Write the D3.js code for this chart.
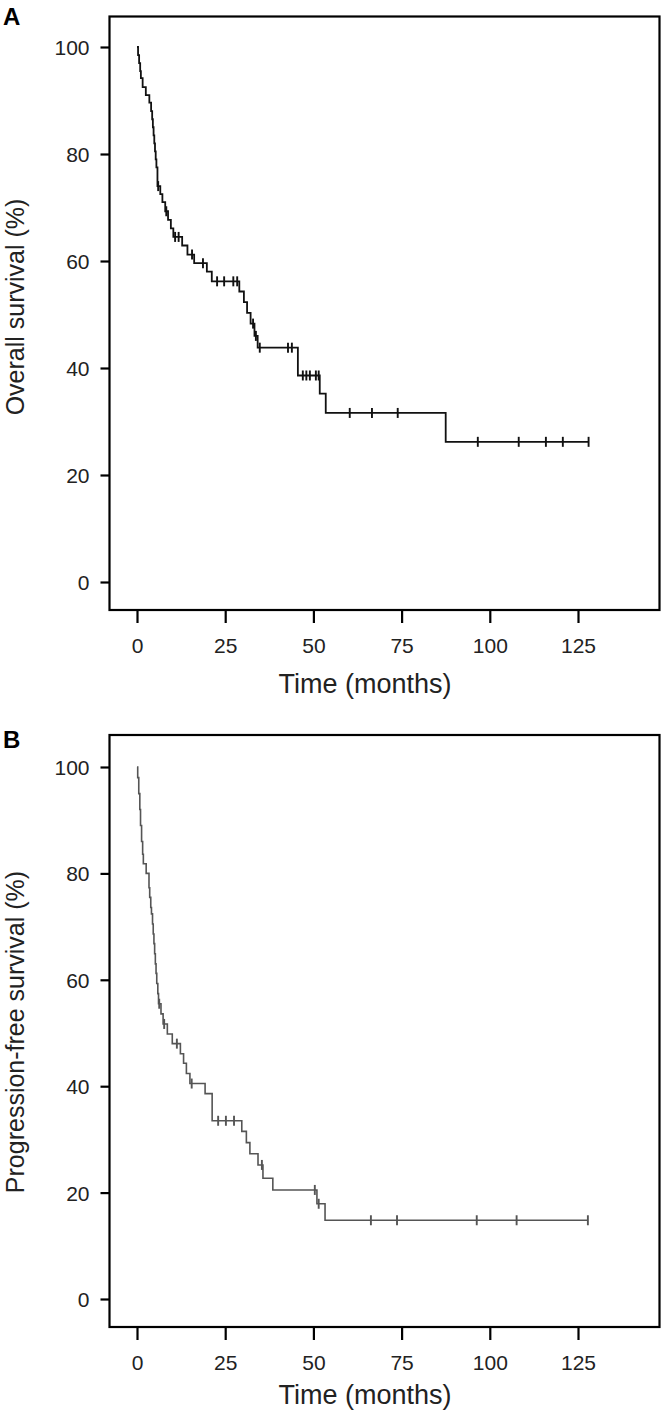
<!DOCTYPE html>
<html>
<head>
<meta charset="utf-8">
<script src="https://cdn.jsdelivr.net/npm/d3@7"></script>
<style>
  html, body { margin: 0; padding: 0; background: #fff; }
  svg { display: block; }
  text { font-family: "Liberation Sans", Arial, Helvetica, sans-serif; }
</style>
</head>
<body>
<svg id="chart" width="664" height="1416"></svg>
<script>
// ---------- DATA ----------
// Panel A: overall survival – event times (months) and survival (%) after each event
const osTimes = [0, 0.3, 0.6, 0.9, 1.1, 1.6, 2.5, 3.5, 4.0, 4.3, 4.5, 4.7, 4.9, 5.1, 5.3, 5.5, 5.8,
  6.6, 7.2, 8.0, 8.8, 9.6, 10.3, 12.8, 14.3, 16.2, 19.8, 21.2, 29.0, 30.3, 31.2, 32.2, 33.3, 34.2,
  45.6, 51.8, 53.5, 87.5];
const osSurv = [100, 98.5, 97, 95.5, 94.2, 92.5, 91, 89.6, 88, 86.5, 85, 83.5, 82, 80.5, 79, 77.5, 74,
  72.5, 71, 69.3, 67.7, 66.1, 64.5, 62.9, 61.2, 59.6, 58, 56.2, 54.3, 52.3, 50.3, 48.3, 46, 43.8,
  38.6, 35.2, 31.6, 26.2];
const osCensor = [6.0, 8.3, 10.8, 11.8, 15.6, 18.7, 22.7, 24.7, 27.3, 28.4, 32.9, 33.7, 34.8, 42.8, 43.9,
  47.0, 48.0, 49.0, 50.7, 51.5, 60.3, 66.6, 73.9, 96.6, 108.2, 115.9, 120.7, 128.0];
const osEnd = 128.0;

// Panel B: progression-free survival
const pfsTimes = [0, 0.2, 0.5, 0.8, 1.0, 1.3, 1.6, 1.8, 2.6, 3.4, 3.6, 3.9, 4.1, 4.4, 4.6, 4.8, 5.0, 5.2,
  5.4, 5.6, 5.9, 6.1, 6.8, 7.4, 8.6, 10.0, 12.3, 13.2, 14.0, 15.0, 19.3, 21.3, 29.7, 31.0, 32.0,
  34.3, 35.7, 38.5, 51.0, 53.3];
const pfsSurv = [100, 98, 95, 92, 89, 86, 83.6, 81.8, 80, 77.3, 75.5, 73.6, 72.4, 70.5, 68.6, 66.8, 64.9, 63,
  61.2, 59.3, 57.4, 55.5, 53.6, 51.7, 49.8, 48, 46.1, 44.3, 42.4, 40.5, 38.6, 33.5, 31.5, 29.4, 27.3,
  25.2, 22.7, 20.5, 17.9, 14.8];
const pfsCensor = [6.3, 7.7, 11.3, 15.5, 23.0, 25.2, 27.5, 35.4, 50.4, 51.5, 66.3, 73.7, 96.3, 107.6, 127.8];
const pfsEnd = 127.8;

const xTicks = [0, 25, 50, 75, 100, 125];
const yTicks = [0, 20, 40, 60, 80, 100];

// ---------- DRAW ----------
const svg = d3.select("#chart");
const FONT = "'Liberation Sans', Arial, sans-serif";

function survAt(times, surv, t) {
  let v = surv[0];
  for (let i = 0; i < times.length; i++) { if (times[i] <= t) v = surv[i]; }
  return v;
}

function panel(cfg) {
  const x = d3.scaleLinear().domain([0, 125]).range([137, 578]);
  const y = d3.scaleLinear().domain([0, 100]).range([cfg.y0, cfg.y100]);
  const left = 109.5, right = 659.5;

  const g = svg.append("g");

  // KM step path
  const pts = cfg.times.map((t, i) => [t, cfg.surv[i]]);
  pts.push([cfg.end, cfg.surv[cfg.surv.length - 1]]);
  const line = d3.line().x(d => x(d[0])).y(d => y(d[1])).curve(d3.curveStepAfter);
  g.append("path").datum(pts)
    .attr("d", line).attr("fill", "none")
    .attr("stroke", cfg.color).attr("stroke-width", cfg.lw);

  // censor marks
  g.selectAll("line.cens").data(cfg.censor).join("line")
    .attr("class", "cens")
    .attr("x1", d => x(d)).attr("x2", d => x(d))
    .attr("y1", d => y(survAt(cfg.times, cfg.surv, d)) - 5)
    .attr("y2", d => y(survAt(cfg.times, cfg.surv, d)) + 5)
    .attr("stroke", cfg.color).attr("stroke-width", 1.9);

  // box
  g.append("rect").attr("x", left).attr("y", cfg.top)
    .attr("width", right - left).attr("height", cfg.bottom - cfg.top)
    .attr("fill", "none").attr("stroke", "#000").attr("stroke-width", 2.2);

  // y axis
  const ya = g.append("g").attr("transform", `translate(${left},0)`)
    .call(d3.axisLeft(y).tickValues(yTicks).tickSize(9).tickPadding(11));
  ya.select(".domain").remove();
  ya.selectAll(".tick line").attr("stroke", "#000").attr("stroke-width", 2.2);
  ya.selectAll(".tick text").attr("font-size", 21).attr("fill", "#222")
    .style("font-family", FONT).attr("dy", "0.36em");

  // x axis
  const xa = g.append("g").attr("transform", `translate(0,${cfg.bottom})`)
    .call(d3.axisBottom(x).tickValues(xTicks).tickSize(13).tickPadding(15));
  xa.select(".domain").remove();
  xa.selectAll(".tick line").attr("stroke", "#000").attr("stroke-width", 2.2);
  xa.selectAll(".tick text").attr("font-size", 21).attr("fill", "#222")
    .style("font-family", FONT);

  // titles
  g.append("text").attr("x", 365).attr("y", cfg.xTitleY)
    .attr("text-anchor", "middle").attr("font-size", 27).attr("fill", "#222")
    .text("Time (months)");
  g.append("text")
    .attr("transform", `translate(24,${cfg.yTitleC}) rotate(-90)`)
    .attr("text-anchor", "middle").attr("font-size", 25).attr("fill", "#222")
    .text(cfg.yTitle);
  g.append("text").attr("x", 3).attr("y", cfg.labelY)
    .attr("font-size", 24).attr("font-weight", "bold").attr("fill", "#000")
    .text(cfg.label);
}

panel({ times: osTimes, surv: osSurv, censor: osCensor, end: osEnd,
  y0: 582, y100: 47, top: 16.5, bottom: 610, color: "#111", lw: 1.8,
  xTitleY: 693, yTitle: "Overall survival (%)", yTitleC: 307, label: "A", labelY: 25 });

panel({ times: pfsTimes, surv: pfsSurv, censor: pfsCensor, end: pfsEnd,
  y0: 1299, y100: 767, top: 735, bottom: 1327, color: "#555", lw: 1.6,
  xTitleY: 1404, yTitle: "Progression-free survival (%)", yTitleC: 1032, label: "B", labelY: 748 });
</script>
</body>
</html>
